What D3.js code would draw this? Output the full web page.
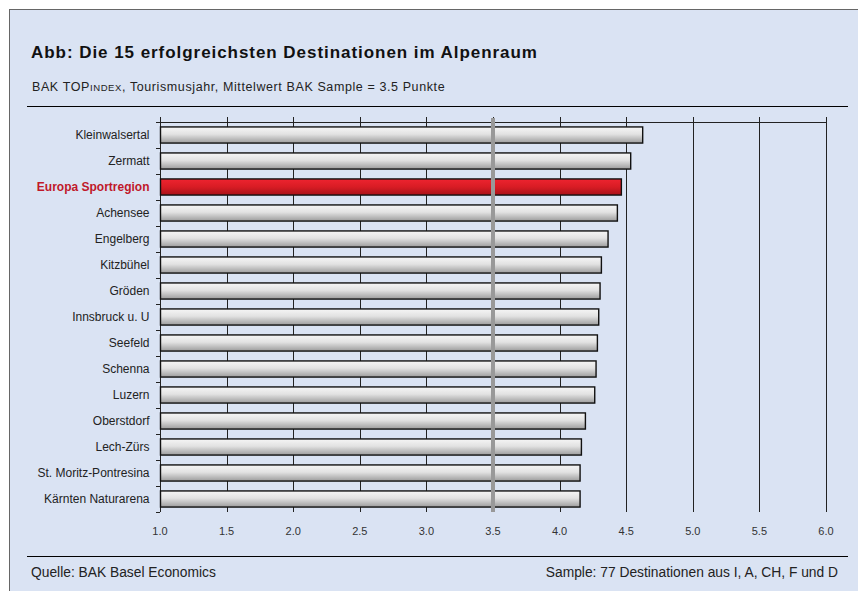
<!DOCTYPE html>
<html>
<head>
<meta charset="utf-8">
<script src="https://cdn.jsdelivr.net/npm/d3@7"></script>
<style>
  body { margin: 0; background: #fff; }
  svg { display: block; font-family: "Liberation Sans", Arial, sans-serif; }
</style>
</head>
<body>
<svg width="858" height="591"></svg>
<script>
// destinations, top to bottom
let destinations = ["Kleinwalsertal", "Zermatt", "Europa Sportregion", "Achensee", "Engelberg",
  "Kitzbühel", "Gröden", "Innsbruck u. U", "Seefeld", "Schenna", "Luzern", "Oberstdorf",
  "Lech-Zürs", "St. Moritz-Pontresina", "Kärnten Naturarena"];
let scores = [4.62, 4.53, 4.46, 4.43, 4.36, 4.31, 4.30, 4.29, 4.28, 4.27, 4.26, 4.19, 4.16, 4.15, 4.15];
let highlight = "Europa Sportregion";
let sampleMean = 3.5;
let xTicks = [1.0, 1.5, 2.0, 2.5, 3.0, 3.5, 4.0, 4.5, 5.0, 5.5, 6.0];

let svg = d3.select("svg");

// panel
svg.append("rect")
  .attr("x", 9.5).attr("y", 9.5)
  .attr("width", 870).attr("height", 600)
  .style("fill", "#dae3f3")
  .style("stroke", "#666")
  .style("stroke-width", 1);

svg.append("text")
  .attr("x", 31).attr("y", 57.5)
  .style("font-size", "17px").style("font-weight", "bold").style("fill", "#111")
  .style("letter-spacing", "0.95px")
  .text("Abb: Die 15 erfolgreichsten Destinationen im Alpenraum");

let sub = svg.append("text")
  .attr("x", 32).attr("y", 90.7)
  .style("font-size", "12.5px").style("fill", "#222")
  .style("letter-spacing", "0.6px");
sub.append("tspan").text("BAK TOP");
sub.append("tspan").style("font-size", "9.5px").text("INDEX");
sub.append("tspan").text(", Tourismusjahr, Mittelwert BAK Sample = 3.5 Punkte");

svg.append("line")
  .attr("x1", 27).attr("x2", 848).attr("y1", 106.5).attr("y2", 106.5)
  .style("stroke", "#000").style("stroke-width", 1);

// scales
let xScale = d3.scaleLinear()
  .domain([1, 6])
  .range([160, 826]);

let yScale = d3.scaleBand()
  .domain(destinations)
  .range([122, 512])
  .paddingInner(0.38)
  .paddingOuter(0.19);

let defs = svg.append("defs");
let g1 = defs.append("linearGradient").attr("id", "gray").attr("x1", 0).attr("x2", 0).attr("y1", 0).attr("y2", 1);
g1.append("stop").attr("offset", "0%").attr("stop-color", "#f6f6f6");
g1.append("stop").attr("offset", "45%").attr("stop-color", "#e2e2e2");
g1.append("stop").attr("offset", "100%").attr("stop-color", "#9c9c9c");
let g2 = defs.append("linearGradient").attr("id", "red").attr("x1", 0).attr("x2", 0).attr("y1", 0).attr("y2", 1);
g2.append("stop").attr("offset", "0%").attr("stop-color", "#ee2430");
g2.append("stop").attr("offset", "50%").attr("stop-color", "#d81c24");
g2.append("stop").attr("offset", "100%").attr("stop-color", "#a8121a");

// grid lines (with little ticks above the top line)
svg.selectAll(".grid")
  .data(xTicks.slice(1))
  .enter()
  .append("line")
  .attr("class", "grid")
  .attr("x1", d => Math.round(xScale(d)) + 0.5)
  .attr("x2", d => Math.round(xScale(d)) + 0.5)
  .attr("y1", 117)
  .attr("y2", 512)
  .style("stroke", "#222")
  .style("stroke-width", 1);

// top line
svg.append("line")
  .attr("x1", 156).attr("x2", Math.round(xScale(6)) + 0.5)
  .attr("y1", 122.5).attr("y2", 122.5)
  .style("stroke", "#222");

// left axis
let yAxis = d3.axisLeft(yScale).tickSize(0).tickPadding(11);
let yAxisG = svg.append("g")
  .attr("transform", "translate(160.5,0)")
  .call(yAxis);
yAxisG.select(".domain").attr("d", "M0,117V512").style("stroke", "#222");
yAxisG.selectAll("text")
  .style("font-family", "'Liberation Sans', Arial, sans-serif")
  .style("font-size", "12px")
  .style("fill", d => d == highlight ? "#c0182a" : "#222")
  .style("font-weight", d => d == highlight ? "bold" : "normal");

// ticks between categories
let bounds = destinations.map(d => yScale(d) - yScale.step() * yScale.paddingInner() / 2);
bounds.push(512);
svg.selectAll(".ytick")
  .data(bounds)
  .enter()
  .append("line")
  .attr("class", "ytick")
  .attr("x1", 156).attr("x2", 160)
  .attr("y1", d => Math.round(d) + 0.5)
  .attr("y2", d => Math.round(d) + 0.5)
  .style("stroke", "#222");

// bars
svg.selectAll(".bar")
  .data(destinations)
  .enter()
  .append("rect")
  .attr("class", "bar")
  .attr("x", xScale(1) + 0.5)
  .attr("y", d => yScale(d))
  .attr("width", (d, i) => xScale(scores[i]) - xScale(1))
  .attr("height", yScale.bandwidth())
  .style("fill", d => d == highlight ? "url(#red)" : "url(#gray)")
  .style("stroke", "#111")
  .style("stroke-width", 1.4);

// sample mean
svg.append("line")
  .attr("x1", xScale(sampleMean)).attr("x2", xScale(sampleMean))
  .attr("y1", 118).attr("y2", 512)
  .style("stroke", "#999")
  .style("stroke-width", 4);

// x tick labels
svg.selectAll(".xlab")
  .data(xTicks)
  .enter()
  .append("text")
  .attr("class", "xlab")
  .attr("x", d => xScale(d))
  .attr("y", 535)
  .attr("text-anchor", "middle")
  .style("font-size", "11px")
  .style("fill", "#333")
  .text(d => d.toFixed(1));

// footer
svg.append("line")
  .attr("x1", 27).attr("x2", 848).attr("y1", 556.5).attr("y2", 556.5)
  .style("stroke", "#000");
svg.append("text")
  .attr("x", 31).attr("y", 576.5)
  .style("font-size", "13.8px").style("fill", "#222")
  .text("Quelle: BAK Basel Economics");
svg.append("text")
  .attr("x", 838).attr("y", 576.5)
  .attr("text-anchor", "end")
  .style("font-size", "13.8px").style("fill", "#222")
  .text("Sample: 77 Destinationen aus I, A, CH, F und D");
</script>
</body>
</html>
